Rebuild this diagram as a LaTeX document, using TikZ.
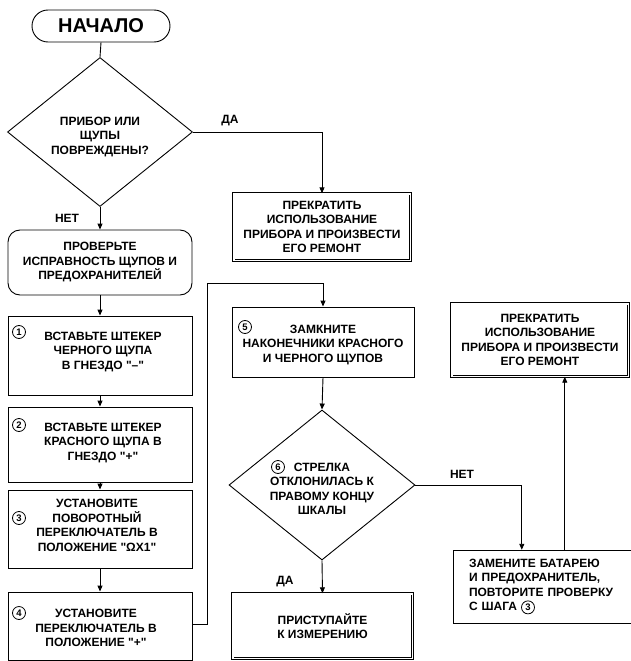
\documentclass[tikz,border=0pt]{standalone}
\usepackage{fontspec}
\setmainfont{Liberation Sans}[Ligatures=TeXOff]
\usetikzlibrary{shapes.geometric,arrows.meta}
\newcommand{\cnum}[1]{\tikz[baseline=(cnx.base)]\node[draw,circle,line width=0.8pt,inner sep=0pt,minimum size=13pt,font=\fontsize{9.5}{10}\selectfont\bfseries](cnx){#1};}
\begin{document}
\begin{tikzpicture}[x=1pt,y=-1pt,line width=0.9pt,
  txt/.style={font=\fontsize{12}{14.5}\selectfont\bfseries,align=center,inner sep=0pt},
  box/.style={draw,rectangle,inner sep=0pt,txt},
  dbox/.style={draw,double,double distance=1.6pt,line width=0.8pt,inner sep=0pt,txt},
  dia/.style={draw,diamond,inner sep=0pt,shape aspect=1.24},
  num/.style={draw,circle,line width=0.8pt,inner sep=0pt,minimum size=13pt,font=\fontsize{9.5}{10}\selectfont\bfseries},
  arr/.style={-{Triangle[length=6pt,width=5pt]}},
  lbl/.style={font=\fontsize{12}{14}\selectfont\bfseries,inner sep=0pt}]
\useasboundingbox[fill=white] (0,0) rectangle (631,661);

% start
\node[draw,rectangle,rounded corners=16pt,minimum width=138pt,minimum height=32pt,inner sep=0pt,font=\fontsize{20}{22}\selectfont\bfseries] (start) at (101,26) {НАЧАЛО};

% decision 1
\node[dia,minimum width=185pt,minimum height=149pt] (d1) at (100,132) {};
\node[txt] (d1t) at (100,137) {ПРИБОР ИЛИ\\ЩУПЫ\\ПОВРЕЖДЕНЫ?};
\node[lbl] (yes1) at (230,121) {ДА};
\node[lbl] (no1) at (67,218) {НЕТ};

% stop 1
\node[dbox,minimum width=176.6pt,minimum height=66.6pt] (stop1) at (322,227) {ПРЕКРАТИТЬ\\ИСПОЛЬЗОВАНИЕ\\ПРИБОРА И ПРОИЗВЕСТИ\\ЕГО РЕМОНТ};

% check
\node[box,rounded corners=12pt,minimum width=184pt,minimum height=65pt] (check) at (100,262.5) {ПРОВЕРЬТЕ\\ИСПРАВНОСТЬ ЩУПОВ И\\ПРЕДОХРАНИТЕЛЕЙ};

% steps 1-4
\node[box,minimum width=184pt,minimum height=79pt] (b1) at (100,355.5) {};
\node[txt] (b1t) at (103,352) {ВСТАВЬТЕ ШТЕКЕР\\ЧЕРНОГО ЩУПА\\В ГНЕЗДО "–"};
\node[num] (n1) at (19,332) {1};

\node[box,minimum width=184pt,minimum height=75pt] (b2) at (100,444.5) {};
\node[txt] (b2t) at (103,443) {ВСТАВЬТЕ ШТЕКЕР\\КРАСНОГО ЩУПА В\\ГНЕЗДО "+"};
\node[num] (n2) at (19,425) {2};

\node[box,minimum width=184pt,minimum height=78pt] (b3) at (100,529) {};
\node[txt] (b3t) at (97,525.5) {УСТАНОВИТЕ\\ПОВОРОТНЫЙ\\ПЕРЕКЛЮЧАТЕЛЬ В\\ПОЛОЖЕНИЕ "ΩX1"};
\node[num] (n3) at (19,518) {3};

\node[box,minimum width=184pt,minimum height=68pt] (b4) at (100,626) {};
\node[txt] (b4t) at (96,628) {УСТАНОВИТЕ\\ПЕРЕКЛЮЧАТЕЛЬ В\\ПОЛОЖЕНИЕ "+"};
\node[num] (n4) at (19,613) {4};

% step 5
\node[box,minimum width=182pt,minimum height=70pt] (b5) at (323,342) {};
\node[txt] (b5t) at (323,345) {ЗАМКНИТЕ\\НАКОНЕЧНИКИ КРАСНОГО\\И ЧЕРНОГО ЩУПОВ};
\node[num] (n5) at (245,327) {5};

% decision 2
\node[dia,minimum width=186pt,minimum height=150pt] (d2) at (322,485) {};
\node[txt] (d2t) at (322,489) {СТРЕЛКА\\ОТКЛОНИЛАСЬ К\\ПРАВОМУ КОНЦУ\\ШКАЛЫ};
\node[num] (n6) at (278,467) {6};
\node[lbl] (no2) at (462,474) {НЕТ};
\node[lbl] (yes2) at (285,582) {ДА};

% replace
\node[draw,rectangle,inner sep=0pt,inner xsep=16pt,text width=155pt,align=left,minimum height=73pt,font=\fontsize{12}{14.5}\selectfont\bfseries] (rep) at (546.5,586.5) {ЗАМЕНИТЕ БАТАРЕЮ\\И ПРЕДОХРАНИТЕЛЬ,\\ПОВТОРИТЕ ПРОВЕРКУ\\С ШАГА \cnum{3}};

% stop 2
\node[dbox,minimum width=176.6pt,minimum height=72.6pt] (stop2) at (540,340) {ПРЕКРАТИТЬ\\ИСПОЛЬЗОВАНИЕ\\ПРИБОРА И ПРОИЗВЕСТИ\\ЕГО РЕМОНТ};

% final
\node[dbox,minimum width=179.6pt,minimum height=64.6pt] (fin) at (322.5,626) {ПРИСТУПАЙТЕ\\К ИЗМЕРЕНИЮ};

% connectors
\draw (start.south) -- (d1.north);
\draw[arr] (d1.east) -| (stop1.north);
\draw[arr] (d1.south) -- (check.north);
\draw[arr] (check.south) -- (b1.north);
\draw[arr] (b1.south) -- (b2.north);
\draw[arr] (b2.south) -- (b3.north);
\draw[arr] (b3.south) -- (b4.north);
\coordinate (j1) at (207,283);
\draw[arr] ([yshift=2pt]b4.east) -| (j1) -| (b5.north);
\draw[arr] (b5.south) -- (d2.north);
\draw[arr] (d2.east) -| ([xshift=69pt]rep.north west);
\draw[arr] ([xshift=112pt]rep.north west) -- ([xshift=112pt]rep.north west |- stop2.south);
\draw[arr] (d2.south) -- (fin.north);
\end{tikzpicture}
\end{document}
